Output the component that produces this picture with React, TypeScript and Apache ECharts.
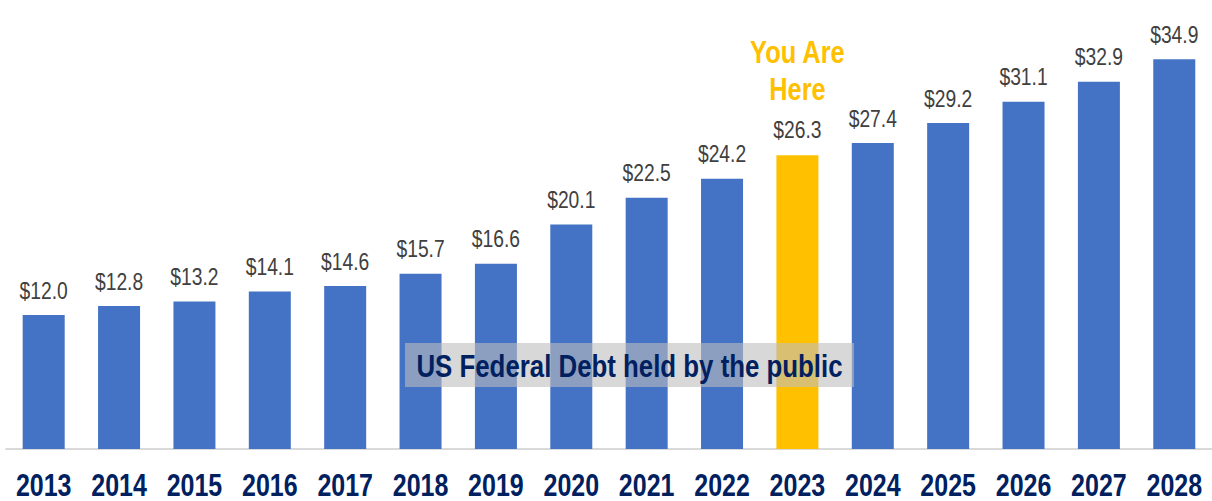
import React, { useEffect, useRef } from "react";
import * as echarts from "echarts";

const years = ["2013","2014","2015","2016","2017","2018","2019","2020","2021","2022","2023","2024","2025","2026","2027","2028"];
const debt = [12.0, 12.8, 13.2, 14.1, 14.6, 15.7, 16.6, 20.1, 22.5, 24.2, 26.3, 27.4, 29.2, 31.1, 32.9, 34.9];
const highlightYear = "2023";
const highlightText = ["You Are", "Here"];
const overlayTitle = "US Federal Debt held by the public";

// Arial Narrow look: Liberation Sans compressed horizontally
const SX = 0.82;
const W = 1212;
const H = 501;
const FONT = "'Liberation Sans', Arial, sans-serif";
const BLUE = "#4472C4";
const GOLD = "#FFC000";
const NAVY = "#002060";

export default function App() {
  const ref = useRef<HTMLDivElement>(null);
  useEffect(() => {
    if (!ref.current) return;
    const chart = echarts.init(ref.current, null, { renderer: "svg" });
    const data = debt.map((v, i) => {
      const money = "$" + v.toFixed(1);
      if (years[i] === highlightYear) {
        return {
          value: v,
          itemStyle: { color: GOLD },
          label: {
            distance: 2.5,
            formatter: highlightText.map((t) => "{h|" + t + "}").join("\n") + "\n{v|" + money + "}",
            rich: {
              h: { fontSize: 31, fontWeight: "bold", color: GOLD, lineHeight: 37, fontFamily: FONT },
              v: { fontSize: 23.5, color: "#404040", lineHeight: 45, fontFamily: FONT },
            },
          },
        };
      }
      return { value: v };
    });
    chart.setOption({
      animation: false,
      grid: { left: 6 / SX, right: -7 / SX, top: 2.4, bottom: 51, containLabel: false },
      xAxis: {
        type: "category",
        data: years,
        axisLine: { show: true, lineStyle: { color: "#D9D9D9", width: 2 } },
        axisTick: { show: false },
        axisLabel: { color: NAVY, fontWeight: "bold", fontSize: 30.5, fontFamily: FONT, margin: 21, interval: 0 },
      },
      yAxis: { type: "value", min: 0, max: 40, show: false, splitLine: { show: false } },
      series: [
        {
          type: "bar",
          data,
          barWidth: 42 / SX,
          itemStyle: { color: BLUE },
          label: {
            show: true,
            position: "top",
            distance: 10,
            fontSize: 23.5,
            lineHeight: 28,
            color: "#404040",
            fontFamily: FONT,
            formatter: (p: any) => "$" + Number(p.value).toFixed(1),
          },
        },
      ],
      graphic: [
        {
          type: "group",
          left: 405 / SX,
          top: 343,
          z: 100,
          children: [
            { type: "rect", z: 100, shape: { x: 0, y: 0, width: 449 / SX, height: 44 }, style: { fill: "rgba(190,190,190,0.6)" } },
            {
              type: "text",
              z: 101,
              x: 449 / SX / 2,
              y: 23,
              style: {
                text: overlayTitle,
                fontSize: 31.5,
                fontWeight: "bold",
                fill: NAVY,
                fontFamily: FONT,
                align: "center",
                verticalAlign: "middle",
              },
            },
          ],
        },
      ],
    });
    return () => chart.dispose();
  }, []);
  return (
    <div style={{ position: "absolute", left: 0, top: 0, width: W, height: H, overflow: "hidden" }}>
      <div
        ref={ref}
        style={{ width: W / SX, height: H, transform: `scaleX(${SX})`, transformOrigin: "left top" }}
      />
    </div>
  );
}
